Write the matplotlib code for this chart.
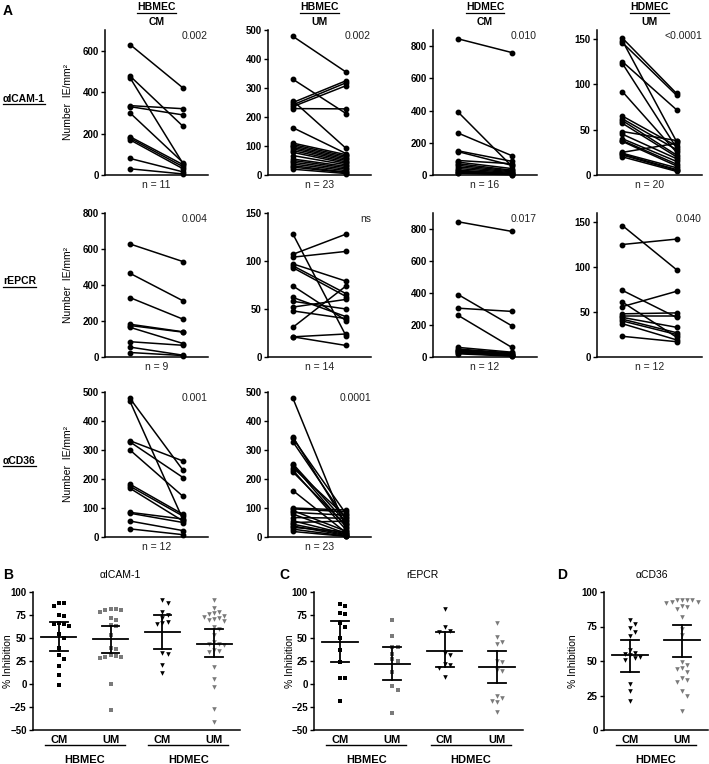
import matplotlib
matplotlib.use('Agg')
import matplotlib.pyplot as plt
from matplotlib.lines import Line2D

plt.rcParams['font.family'] = ['Liberation Sans', 'DejaVu Sans']

# ---- panel A: paired counts (left = medium only, right = + antibody) ----
icam_hb_cm_ctrl = [630, 478, 470, 335, 330, 300, 185, 178, 170, 80, 30]
icam_hb_cm_ab = [420, 235, 55, 320, 290, 60, 50, 40, 30, 15, 5]
icam_hb_um_ctrl = [478, 330, 256, 250, 242, 236, 229, 163, 110, 105, 100, 95, 90, 84, 78, 67, 55, 50, 44, 38, 32, 27, 20]
icam_hb_um_ab = [355, 212, 92, 325, 318, 308, 228, 74, 70, 65, 60, 55, 50, 45, 40, 35, 30, 25, 20, 15, 10, 8, 5]
icam_hd_cm_ctrl = [845, 390, 260, 150, 145, 90, 80, 70, 60, 50, 40, 30, 25, 20, 15, 10]
icam_hd_cm_ab = [760, 55, 120, 85, 60, 70, 40, 30, 25, 20, 15, 10, 8, 5, 3, 2]
icam_hd_um_ctrl = [151, 148, 146, 125, 123, 92, 65, 62, 60, 57, 48, 45, 40, 38, 37, 25, 24, 23, 22, 20]
icam_hd_um_ab = [90, 37, 88, 72, 30, 25, 32, 28, 22, 20, 38, 18, 15, 12, 10, 35, 8, 6, 5, 4]

epcr_hb_cm_ctrl = [628, 465, 330, 182, 175, 165, 85, 55, 25]
epcr_hb_cm_ab = [530, 312, 210, 140, 138, 75, 65, 10, 8]
epcr_hb_um_ctrl = [128, 107, 104, 97, 95, 93, 74, 62, 58, 52, 48, 31, 21, 21]
epcr_hb_um_ab = [22, 128, 110, 79, 66, 63, 38, 42, 50, 60, 40, 74, 24, 12]
epcr_hd_cm_ctrl = [845, 390, 305, 260, 60, 50, 45, 40, 35, 30, 25, 20]
epcr_hd_cm_ab = [785, 195, 285, 60, 30, 25, 20, 15, 12, 10, 8, 5]
epcr_hd_um_ctrl = [146, 125, 74, 61, 56, 48, 46, 44, 42, 40, 37, 23]
epcr_hd_um_ab = [97, 131, 44, 22, 73, 49, 46, 33, 27, 25, 19, 17]

cd36_hb_cm_ctrl = [478, 468, 332, 328, 300, 182, 175, 168, 85, 82, 55, 28]
cd36_hb_cm_ab = [230, 60, 262, 205, 140, 78, 72, 55, 62, 50, 22, 8]
cd36_hb_um_ctrl = [478, 345, 340, 328, 252, 247, 239, 230, 224, 160, 100, 97, 91, 85, 79, 67, 56, 50, 44, 38, 33, 27, 19]
cd36_hb_um_ab = [30, 45, 80, 60, 50, 35, 70, 25, 40, 15, 93, 87, 20, 75, 12, 65, 10, 55, 8, 5, 18, 3, 2]

p_icam = ['0.002', '0.002', '0.010', '<0.0001']
p_epcr = ['0.004', 'ns', '0.017', '0.040']
p_cd36 = ['0.001', '0.0001']

# ---- panels B-D: % inhibition ----
groups_4 = ['CM', 'UM', 'CM', 'UM']
inh_icam = [
    [88, 85, 88, 75, 74, 66, 65, 65, 63, 54, 50, 39, 32, 27, 20, 10, -1],
    [82, 81, 80, 80, 78, 72, 70, 64, 63, 53, 39, 38, 31, 30, 29, 29, 28, 0, -28],
    [91, 88, 78, 75, 72, 67, 66, 65, 34, 33, 21, 12],
    [91, 83, 78, 77, 76, 74, 73, 72, 71, 70, 68, 62, 60, 53, 46, 44, 43, 42, 37, 36, 35, 19, 5, -3, -27, -41],
]
inh_icam_mean = [51, 49, 56, 44]
inh_icam_lo = [36, 34, 38, 29]
inh_icam_hi = [67, 63, 75, 60]

inh_epcr = [
    [87, 85, 77, 76, 66, 62, 50, 37, 24, 7, 6, -19],
    [70, 52, 40, 40, 33, 27, 25, 13, -2, -7, -32],
    [81, 62, 58, 57, 34, 32, 22, 21, 17, 8],
    [66, 51, 46, 43, 25, 24, 15, 14, -13, -15, -18, -20, -30],
]
inh_epcr_mean = [46, 22, 36, 19]
inh_epcr_lo = [24, 4, 18, 1]
inh_epcr_hi = [69, 40, 56, 36]

inh_cd36 = [
    [80, 77, 74, 71, 68, 58, 56, 55, 54, 53, 52, 51, 33, 28, 21],
    [94, 94, 93, 94, 93, 92, 94, 90, 89, 88, 82, 73, 69, 49, 47, 45, 44, 42, 38, 36, 35, 28, 25, 14],
]
inh_cd36_mean = [54, 65]
inh_cd36_lo = [42, 53]
inh_cd36_hi = [65, 76]

W, H = 709, 764
fig = plt.figure(figsize=(W / 100, H / 100), dpi=100)
underlined = []


def add_ax(l, t, r, b):
    return fig.add_axes([l / W, 1 - b / H, (r - l) / W, (b - t) / H])


def ftext(x, y, s, **kw):
    return fig.text(x / W, 1 - y / H, s, **kw)


def style(ax):
    for s in ['top', 'right']:
        ax.spines[s].set_visible(False)
    for s in ['left', 'bottom']:
        ax.spines[s].set_linewidth(1.1)
    ax.tick_params(axis='y', length=3, width=1.0, labelsize=7, pad=1.5)
    for lab in ax.get_yticklabels():
        lab.set_fontweight('bold')


def paired(ax, ctrl, ab, ymax, step, ptxt):
    for a, b in zip(ctrl, ab):
        ax.plot([0, 1], [a, b], color='black', lw=1.1, marker='o', ms=3.2, clip_on=False)
    ax.set_xlim(-0.47, 1.47)
    ax.set_ylim(0, ymax)
    ax.set_xticks([])
    ax.set_yticks(range(0, ymax + 1, step) if ymax % step == 0 else range(0, ymax, step))
    style(ax)
    ax.text(1.0, 0.96, ptxt, transform=ax.transAxes, ha='right', va='center', fontsize=7.5, color='#222222')
    ax.text(0.5, -0.07, 'n = %d' % len(ctrl), transform=ax.get_xaxis_transform(),
            ha='center', va='center', fontsize=7.5, color='#222222')


cols = [(105, 208), (268, 371), (433, 537), (597, 702)]
rows = [(30, 175), (213, 357), (392, 537)]

row_data = [
    [(icam_hb_cm_ctrl, icam_hb_cm_ab, 700, 200), (icam_hb_um_ctrl, icam_hb_um_ab, 500, 100),
     (icam_hd_cm_ctrl, icam_hd_cm_ab, 900, 200), (icam_hd_um_ctrl, icam_hd_um_ab, 160, 50)],
    [(epcr_hb_cm_ctrl, epcr_hb_cm_ab, 800, 200), (epcr_hb_um_ctrl, epcr_hb_um_ab, 150, 50),
     (epcr_hd_cm_ctrl, epcr_hd_cm_ab, 900, 200), (epcr_hd_um_ctrl, epcr_hd_um_ab, 160, 50)],
    [(cd36_hb_cm_ctrl, cd36_hb_cm_ab, 500, 100), (cd36_hb_um_ctrl, cd36_hb_um_ab, 500, 100)],
]
row_p = [p_icam, p_epcr, p_cd36]
row_names = ['\u03b1ICAM-1', 'rEPCR', '\u03b1CD36']

for ri, (t, b) in enumerate(rows):
    for ci, (ctrl, ab, ymax, step) in enumerate(row_data[ri]):
        l, r = cols[ci]
        ax = add_ax(l, t, r, b)
        paired(ax, ctrl, ab, ymax, step, row_p[ri][ci])
    ftext(68, (t + b) / 2, 'Number  IE/mm\u00b2', rotation=90, ha='center', va='center', fontsize=7.5)
    underlined.append(ftext(3, (t + b) / 2 - 4, row_names[ri], ha='left', va='center',
                            fontsize=7.5, fontweight='bold'))

heads = [('HBMEC', 'CM'), ('HBMEC', 'UM'), ('HDMEC', 'CM'), ('HDMEC', 'UM')]
for (l, r), (h1, h2) in zip(cols, heads):
    xc = l + (r - l) * 0.47 / 1.94 + (r - l) * 0.5 / 1.94
    underlined.append(ftext(xc, 7, h1, ha='center', va='center', fontsize=7.5, fontweight='bold'))
    ftext(xc, 22, h2, ha='center', va='center', fontsize=7.5, fontweight='bold')

ftext(3, 11, 'A', ha='left', va='center', fontsize=10, fontweight='bold')


def swarm(vals, dy, dx):
    order = sorted(range(len(vals)), key=lambda i: -vals[i])
    placed = []
    xs = [0.0] * len(vals)
    for i in order:
        y = vals[i]
        k = 0
        pos = None
        while pos is None:
            cands = [0.0] if k == 0 else [k * dx, -k * dx]
            for c in cands:
                if all(abs(c - px) >= dx * 0.99 or abs(y - py) >= dy for px, py in placed):
                    pos = c
                    break
            k += 1
        xs[i] = pos
        placed.append((pos, y))
    return xs


def inhibition(ax, data, means, lo, hi, markers, colors, ymin, dy, label_x):
    for i, vals in enumerate(data):
        offs = swarm(vals, dy, 0.1)
        ax.scatter([i + o for o in offs], vals, marker=markers[i], s=11, color=colors[i],
                   linewidths=0, clip_on=False, zorder=2)
        ax.plot([i - 0.34, i + 0.34], [means[i]] * 2, color='black', lw=1.3, zorder=3)
        ax.plot([i, i], [lo[i], hi[i]], color='black', lw=1.3, zorder=3)
        for v in (lo[i], hi[i]):
            ax.plot([i - 0.17, i + 0.17], [v, v], color='black', lw=1.3, zorder=3)
    ax.set_xlim(-0.5, len(data) - 0.5)
    ax.set_ylim(ymin, 100)
    ax.set_yticks(range(ymin, 101, 25))
    ax.set_xticks([])
    style(ax)
    xt = ax.get_xaxis_transform()
    for i in range(len(data)):
        ax.text(i, -0.075, groups_4[i], transform=xt, ha='center', va='center',
                fontsize=8, fontweight='bold')
    ax.set_ylabel('% Inhibition', fontsize=7.5)
    pos = ax.get_position()
    ax.yaxis.set_label_coords((label_x / W - pos.x0) / pos.width, 0.5)


blk, gry = 'black', '#7a7a7a'
markers4 = ['s', 's', 'v', 'v']
colors4 = [blk, gry, blk, gry]

axB = add_ax(33, 592, 240, 730)
inhibition(axB, inh_icam, inh_icam_mean, inh_icam_lo, inh_icam_hi, markers4, colors4, -50, 5.5, 13)
axC = add_ax(314, 592, 523, 730)
inhibition(axC, inh_epcr, inh_epcr_mean, inh_epcr_lo, inh_epcr_hi, markers4, colors4, -50, 5.5, 295)
axD = add_ax(604, 592, 708, 730)
inhibition(axD, inh_cd36, inh_cd36_mean, inh_cd36_lo, inh_cd36_hi, ['v', 'v'], [blk, gry], 0, 3.6, 578)

for ax, names in [(axB, ['HBMEC', 'HDMEC']), (axC, ['HBMEC', 'HDMEC']), (axD, ['HDMEC'])]:
    xt = ax.get_xaxis_transform()
    for j, nm in enumerate(names):
        x0, x1 = 2 * j - 0.27, 2 * j + 1.27
        ax.add_line(Line2D([x0, x1], [-0.11, -0.11], transform=xt, color='black', lw=1.0, clip_on=False))
        ax.text(2 * j + 0.5, -0.215, nm, transform=xt, ha='center', va='center', fontsize=8, fontweight='bold')

ftext(120, 575, '\u03b1ICAM-1', ha='center', va='center', fontsize=7.5)
ftext(422, 575, 'rEPCR', ha='center', va='center', fontsize=7.5)
ftext(652, 575, '\u03b1CD36', ha='center', va='center', fontsize=7.5)
ftext(3, 575, 'B', ha='left', va='center', fontsize=10, fontweight='bold')
ftext(279, 575, 'C', ha='left', va='center', fontsize=10, fontweight='bold')
ftext(557, 575, 'D', ha='left', va='center', fontsize=10, fontweight='bold')

fig.canvas.draw()
rend = fig.canvas.get_renderer()
for t in underlined:
    bb = t.get_window_extent(rend)
    yy = (bb.y0 - 0.5) / fig.bbox.height
    fig.add_artist(Line2D([bb.x0 / fig.bbox.width, bb.x1 / fig.bbox.width], [yy, yy],
                          transform=fig.transFigure, color='black', lw=0.9))

fig.savefig('out.png', dpi=100)
